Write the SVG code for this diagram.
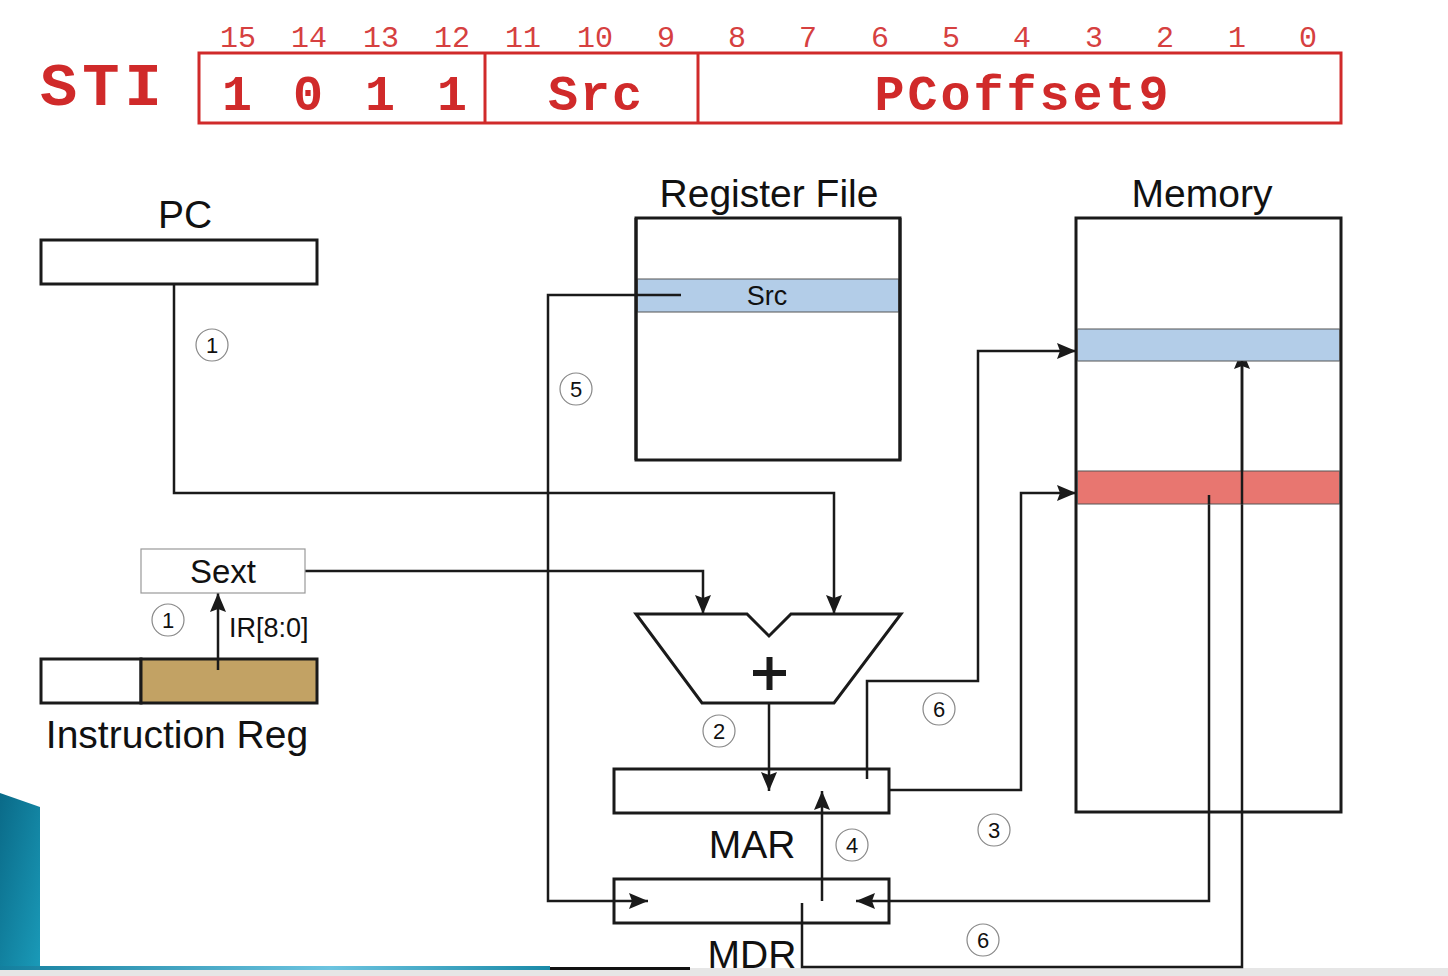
<svg xmlns="http://www.w3.org/2000/svg" width="1448" height="976" viewBox="0 0 1448 976">
<style>
.red{fill:#d02a2a;font-family:"Liberation Mono",monospace;}
.big{font-size:62px;font-weight:bold;letter-spacing:5px;}
.bits{font-size:30px;fill:#d64040;text-anchor:middle;}
.field{font-size:50px;font-weight:bold;text-anchor:middle;}
.lbl{font-family:"Liberation Sans",Arial,sans-serif;fill:#111;font-size:39px;text-anchor:middle;}
.box{fill:#fff;stroke:#1a1a1a;stroke-width:3;}
.wire{fill:none;stroke:#1a1a1a;stroke-width:2.5;}
.num circle{fill:#fff;stroke:#888;stroke-width:1.2;}
.num text{font-family:"Liberation Sans",Arial,sans-serif;font-size:22px;fill:#111;text-anchor:middle;}
</style>
<defs>
<marker id="ah" markerUnits="userSpaceOnUse" markerWidth="22" markerHeight="18" refX="19" refY="9" orient="auto">
<path d="M0,1 L19,9 L0,17 L3,9 Z" fill="#1a1a1a"/>
</marker>
<linearGradient id="teal" x1="0" y1="0" x2="1" y2="1">
<stop offset="0" stop-color="#0a6a88"/>
<stop offset="1" stop-color="#1a9ab8"/>
</linearGradient>
<linearGradient id="strip" x1="0" y1="0" x2="1" y2="0">
<stop offset="0" stop-color="#137f9e"/>
<stop offset="0.6" stop-color="#6cc4e0"/>
<stop offset="1" stop-color="#1a8aa8"/>
</linearGradient>
</defs>
<rect width="1448" height="976" fill="#fff"/>

<!-- decorations -->
<polygon points="0,793 40,807 40,968 0,968" fill="url(#teal)"/>
<rect x="0" y="968" width="1448" height="8" fill="#e6e6e6"/>
<rect x="0" y="966" width="550" height="4" fill="url(#strip)"/>
<rect x="550" y="967" width="140" height="3" fill="#111"/>

<!-- instruction format -->
<g id="format">
<text class="red big" x="40" y="105">STI</text>
<rect x="199" y="53" width="1142" height="70" fill="none" stroke="#d02a2a" stroke-width="3"/>
<line x1="485" y1="53" x2="485" y2="123" stroke="#d02a2a" stroke-width="3"/>
<line x1="698" y1="53" x2="698" y2="123" stroke="#d02a2a" stroke-width="3"/>
<g class="red bits">
<text x="238" y="47">15</text><text x="309" y="47">14</text><text x="381" y="47">13</text><text x="452" y="47">12</text>
<text x="523" y="47">11</text><text x="595" y="47">10</text><text x="666" y="47">9</text><text x="737" y="47">8</text>
<text x="808" y="47">7</text><text x="880" y="47">6</text><text x="951" y="47">5</text><text x="1022" y="47">4</text>
<text x="1094" y="47">3</text><text x="1165" y="47">2</text><text x="1237" y="47">1</text><text x="1308" y="47">0</text>
</g>
<g class="red field">
<text x="237" y="110">1</text><text x="308" y="110">0</text><text x="380" y="110">1</text><text x="452" y="110">1</text>
<text x="596" y="110" style="letter-spacing:2px">Src</text>
<text x="1023" y="110" style="letter-spacing:3px">PCoffset9</text>
</g>
</g>

<!-- connectors -->
<g id="connectors">
<polyline class="wire" points="174,284 174,493 834,493 834,614" marker-end="url(#ah)"/>
<polyline class="wire" points="305,571 703,571 703,614" marker-end="url(#ah)"/>
<polyline class="wire" points="218,670 218,593" marker-end="url(#ah)"/>
<polyline class="wire" points="769,703 769,791" marker-end="url(#ah)"/>
<polyline class="wire" points="681,295 548,295 548,901 648,901" marker-end="url(#ah)"/>
<polyline class="wire" points="889,790 1021,790 1021,493 1076,493" marker-end="url(#ah)"/>
<polyline class="wire" points="867,779 867,681 978,681 978,351 1076,351" marker-end="url(#ah)"/>
<polyline class="wire" points="1209,495 1209,901 856,901" marker-end="url(#ah)"/>
<polyline class="wire" points="822,901 822,791" marker-end="url(#ah)"/>
<polyline class="wire" points="802,903 802,967 1242,967 1242,350" marker-end="url(#ah)"/>
</g>

<!-- PC -->
<g id="pc">
<text class="lbl" x="185" y="228">PC</text>
<rect class="box" x="41" y="240" width="276" height="44"/>
</g>

<!-- Register File -->
<g id="regfile">
<text class="lbl" x="769" y="207">Register File</text>
<rect x="636" y="218" width="264" height="242" fill="none" stroke="#1a1a1a" stroke-width="3"/>
<rect x="637.5" y="279" width="261" height="33" fill="#b3cde8" stroke="#555" stroke-width="1"/>
<text class="lbl" x="767" y="305" style="font-size:27px">Src</text>
<line x1="636" y1="218" x2="636" y2="460" stroke="#1a1a1a" stroke-width="3"/>
<line x1="900" y1="218" x2="900" y2="460" stroke="#1a1a1a" stroke-width="3"/>
<line class="wire" x1="636" y1="295" x2="681" y2="295"/>
</g>

<!-- Memory -->
<g id="memory">
<text class="lbl" x="1202" y="207">Memory</text>
<rect x="1076" y="218" width="265" height="594" fill="none" stroke="#1a1a1a" stroke-width="3"/>
<rect x="1077.5" y="329" width="262" height="32" fill="#b3cde8" stroke="#555" stroke-width="1"/>
<rect x="1077.5" y="471" width="262" height="33" fill="#e87670" stroke="#555" stroke-width="1"/>
<line class="wire" x1="1209" y1="495" x2="1209" y2="504"/>
<line class="wire" x1="1242" y1="361" x2="1242" y2="504"/>
</g>

<!-- Sext -->
<g id="sext">
<rect x="141" y="549" width="164" height="44" fill="#fff" stroke="#999" stroke-width="1.2"/>
<text class="lbl" x="223" y="583" style="font-size:33px">Sext</text>
<text x="229" y="637" style="font-family:'Liberation Sans',Arial,sans-serif;font-size:27px;fill:#111">IR[8:0]</text>
</g>

<!-- Instruction register -->
<g id="ir">
<rect class="box" x="41" y="659" width="100" height="44"/>
<rect x="141" y="659" width="176" height="44" fill="#c2a264" stroke="#1a1a1a" stroke-width="3"/>
<line class="wire" x1="218" y1="659" x2="218" y2="670"/>
<text class="lbl" x="177" y="748">Instruction Reg</text>
</g>

<!-- ALU -->
<g id="alu">
<polygon points="636,614 747,614 769,636 791,614 901,614 834,703 702,703" fill="#fff" stroke="#1a1a1a" stroke-width="3"/>
<rect x="753" y="670" width="33" height="6" fill="#1a1a1a"/>
<rect x="766.5" y="657" width="6" height="33" fill="#1a1a1a"/>
</g>

<!-- MAR -->
<g id="mar">
<rect x="614" y="769" width="275" height="44" fill="none" stroke="#1a1a1a" stroke-width="3"/>
<text class="lbl" x="752" y="858">MAR</text>
</g>

<!-- MDR -->
<g id="mdr">
<rect x="614" y="879" width="275" height="44" fill="none" stroke="#1a1a1a" stroke-width="3"/>
<text class="lbl" x="752" y="968">MDR</text>
</g>

<!-- step numbers -->
<g id="steps" class="num">
<circle cx="212" cy="345" r="16"/><text x="212" y="353">1</text>
<circle cx="576" cy="389" r="16"/><text x="576" y="397">5</text>
<circle cx="168" cy="620" r="16"/><text x="168" y="628">1</text>
<circle cx="719" cy="731" r="16"/><text x="719" y="739">2</text>
<circle cx="939" cy="709" r="16"/><text x="939" y="717">6</text>
<circle cx="994" cy="830" r="16"/><text x="994" y="838">3</text>
<circle cx="852" cy="845" r="16"/><text x="852" y="853">4</text>
<circle cx="983" cy="940" r="16"/><text x="983" y="948">6</text>
</g>
</svg>
